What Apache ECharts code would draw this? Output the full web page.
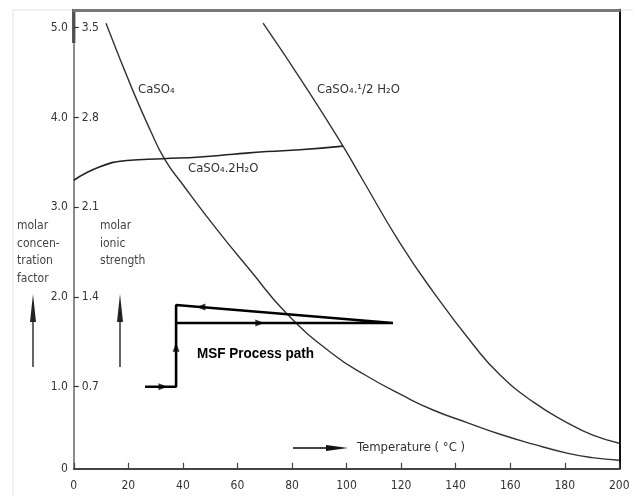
<!DOCTYPE html>
<html>
<head>
<meta charset="utf-8">
<script src="https://cdn.jsdelivr.net/npm/echarts@6/dist/echarts.min.js"></script>
<style>html,body{margin:0;padding:0;background:#fff;}#c{width:633px;height:496px;}</style>
</head>
<body>
<div id="c"></div>
<script>
// Temperature (°C) vs molar concentration factor
const anhydrite = [[11.8,5.05],[21.5,4.31],[28.0,3.86],[33.4,3.53],[40.0,3.25],[52.5,2.75],[64.6,2.30],[78.2,1.81],[94.7,1.37],[106.8,1.13],[120.7,0.90],[131.7,0.74],[144.2,0.60],[156.3,0.47],[168.4,0.36],[180.8,0.26],[190.0,0.21],[200,0.18]];
const hemihydrate = [[69.4,5.05],[85.9,4.30],[98.7,3.68],[106.0,3.30],[119.6,2.60],[131.7,2.06],[146.4,1.47],[156.3,1.13],[168.4,0.83],[180.8,0.60],[190.3,0.46],[200,0.37]];
const dihydrate = [[0,3.30],[9.6,3.45],[19.5,3.52],[32.7,3.54],[46.3,3.56],[58.4,3.59],[70.8,3.62],[82.9,3.64],[98.7,3.68]];
const processPath = [[26.1,1.0],[37.5,1.0],[37.5,1.71],[117,1.71],[37.5,1.91],[37.5,1.71]];
const pathArrows = [[32.7,1.0,-90],[37.5,1.44,0],[46.6,1.887,90],[68.2,1.71,-90]];
const factorTicks = [1,2,3,4,5];
const factorLabels = [0.085,1,2,3,4,5];
const ionicRatio = 0.7;

const F = '"DejaVu Sans Condensed","DejaVu Sans",sans-serif';
const chart = echarts.init(document.getElementById('c'));
const curve = (data,w,c) => ({type:'line',data:data,smooth:0.5,symbol:'none',lineStyle:{color:c,width:w}});
chart.setOption({
  animation:false,
  backgroundColor:'#fff',
  grid:{left:73.8,right:13.7,top:9.75,bottom:27.2},
  xAxis:[{
    type:'value',min:0,max:200,interval:20,
    axisLine:{lineStyle:{color:'#444',width:2}},
    axisTick:{inside:true,length:6,lineStyle:{color:'#444',width:1.2}},
    axisLabel:{color:'#333',fontFamily:F,fontSize:12,margin:11},
    splitLine:{show:false}
  },{
    type:'value',position:'top',min:0,max:200,
    axisLine:{show:true,lineStyle:{color:'#777',width:3}},
    axisTick:{show:false},axisLabel:{show:false},splitLine:{show:false}
  }],
  yAxis:[{
    type:'value',min:0.085,max:5.2,position:'left',
    axisLine:{show:true,lineStyle:{color:'#666',width:1.5}},
    axisTick:{show:true,inside:true,length:5,customValues:factorTicks,lineStyle:{color:'#333',width:1.2}},
    axisLabel:{color:'#333',fontFamily:F,fontSize:12,margin:6,customValues:factorLabels,
      formatter:v=>v<0.5?'0':v.toFixed(1)},
    splitLine:{show:false}
  },{
    type:'value',min:0.085,max:5.2,position:'left',
    axisLine:{show:false},axisTick:{show:false},
    axisLabel:{inside:true,color:'#333',fontFamily:F,fontSize:12,margin:8,customValues:factorTicks,
      formatter:v=>(v*ionicRatio).toFixed(1)},
    splitLine:{show:false}
  },{
    type:'value',min:0.085,max:5.2,position:'right',
    axisLine:{show:true,lineStyle:{color:'#111',width:2}},
    axisTick:{show:false},axisLabel:{show:false},splitLine:{show:false}
  }],
  series:[
    curve(anhydrite,1.4,'#333'),
    curve(hemihydrate,1.4,'#333'),
    curve(dihydrate,1.6,'#222'),
    {type:'line',data:processPath,smooth:false,symbol:'none',lineStyle:{color:'#000',width:2.6}},
    {type:'scatter',data:pathArrows.map(a=>({value:[a[0],a[1]],symbolRotate:a[2]})),
      symbol:'triangle',symbolSize:[7,9],itemStyle:{color:'#000'},z:5}
  ],
  graphic:[
    {type:'line',shape:{x1:13,y1:10,x2:13,y2:496},style:{stroke:'#e2e2e2',lineWidth:1}},
    {type:'line',shape:{x1:13,y1:10,x2:633,y2:10},style:{stroke:'#e2e2e2',lineWidth:1},z:-1},
    {type:'line',shape:{x1:73.8,y1:9,x2:73.8,y2:43},style:{stroke:'#111',lineWidth:3}},
    {type:'text',left:138,top:83,style:{text:'CaSO₄',font:'13px '+F,fill:'#333'}},
    {type:'text',left:317,top:83,style:{text:'CaSO₄.¹/2 H₂O',font:'13px '+F,fill:'#333'}},
    {type:'text',left:188,top:162,style:{text:'CaSO₄.2H₂O',font:'13px '+F,fill:'#333'}},
    {type:'text',x:197,y:346,scaleX:0.9,style:{text:'MSF Process path',font:'bold 15px "Liberation Sans",sans-serif',fill:'#000'}},
    {type:'text',left:17,top:217,style:{text:'molar\nconcen-\ntration\nfactor',font:'12px '+F,fill:'#444',lineHeight:17.7}},
    {type:'text',left:100,top:217,style:{text:'molar\nionic\nstrength',font:'12px '+F,fill:'#444',lineHeight:17.7}},
    {type:'line',shape:{x1:33,y1:367,x2:33,y2:315},style:{stroke:'#555',lineWidth:1.8}},
    {type:'polygon',shape:{points:[[33,294],[30,322],[36,322]]},style:{fill:'#222'}},
    {type:'line',shape:{x1:120,y1:367,x2:120,y2:315},style:{stroke:'#555',lineWidth:1.8}},
    {type:'polygon',shape:{points:[[120,294],[117,322],[123,322]]},style:{fill:'#222'}},
    {type:'line',shape:{x1:293,y1:448,x2:332,y2:448},style:{stroke:'#444',lineWidth:1.8}},
    {type:'polygon',shape:{points:[[348,448],[326,445],[326,451]]},style:{fill:'#111'}},
    {type:'text',left:357,top:441,style:{text:'Temperature ( °C )',font:'13px '+F,fill:'#333'}}
  ]
});
</script>
</body>
</html>
